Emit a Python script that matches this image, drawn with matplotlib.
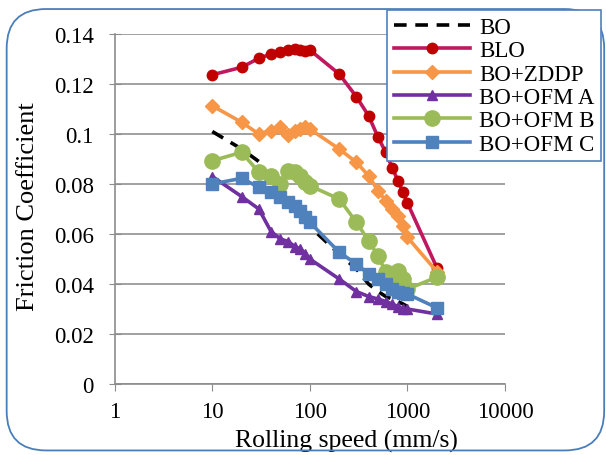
import matplotlib
matplotlib.use('Agg')
import matplotlib.pyplot as plt
from matplotlib.patches import FancyBboxPatch

plt.rcParams['font.family'] = ['Liberation Serif', 'DejaVu Serif']

# rolling speeds (mm/s)
speed = [10, 20, 30, 40, 50, 60, 70, 80, 90, 100,
         200, 300, 400, 500, 600, 700, 800, 900, 1000, 2000]
speed_bo = speed[:-1]

bo = [0.101, 0.094, 0.089, 0.081, 0.077, 0.073, 0.070, 0.067, 0.065, 0.063,
      0.052, 0.046, 0.040, 0.037, 0.035, 0.034, 0.033, 0.032, 0.031]
blo = [0.1237, 0.1267, 0.1303, 0.132, 0.1327, 0.1336, 0.134, 0.1337, 0.1332, 0.1336,
       0.124, 0.1149, 0.1073, 0.0987, 0.0927, 0.0864, 0.0813, 0.0767, 0.0724, 0.0466]
zddp = [0.1113, 0.1047, 0.100, 0.1013, 0.1027, 0.0996, 0.1013, 0.102, 0.1027, 0.102,
        0.094, 0.0887, 0.0833, 0.0773, 0.0733, 0.070, 0.0673, 0.0633, 0.0587, 0.045]
ofm_a = [0.083, 0.075, 0.070, 0.061, 0.058, 0.057, 0.055, 0.054, 0.052, 0.050,
         0.042, 0.037, 0.035, 0.034, 0.033, 0.032, 0.031, 0.030, 0.030, 0.028]
ofm_b = [0.0893, 0.0927, 0.0847, 0.0833, 0.080, 0.0853, 0.0848, 0.0833, 0.0808, 0.0793,
         0.074, 0.0647, 0.0573, 0.0513, 0.0447, 0.043, 0.0453, 0.042, 0.038, 0.0427]
ofm_c = [0.080, 0.0823, 0.0787, 0.0767, 0.0747, 0.0727, 0.0713, 0.0693, 0.0667, 0.0647,
         0.0527, 0.048, 0.044, 0.042, 0.040, 0.038, 0.0367, 0.0365, 0.036, 0.0305]

fig = plt.figure(figsize=(6.06, 4.56), dpi=100)
ax = fig.add_axes([0.1893, 0.1557, 0.6440, 0.7675])

# outer chart frame
frame = FancyBboxPatch((0.011, 0.010), 0.986, 0.968, boxstyle='round,pad=0,rounding_size=0.065',
                       transform=fig.transFigure, facecolor='none', edgecolor='#4a7ebb',
                       linewidth=1.3, mutation_aspect=606 / 456)
fig.patches.append(frame)

lw = 2.6
ax.plot(speed_bo, bo, color='black', linestyle=(0, (3.5, 2.4)), linewidth=lw, label='BO')
ax.plot(speed, blo, color='#c0185e', linewidth=lw, marker='o', markersize=7.5,
        markerfacecolor='#c00000', markeredgecolor='#c00000', label='BLO')
ax.plot(speed, zddp, color='#f79646', linewidth=lw, marker='D', markersize=7.5,
        label='BO+ZDDP')
ax.plot(speed, ofm_a, color='#7030a0', linewidth=lw, marker='^', markersize=7.5,
        label='BO+OFM A')
ax.plot(speed, ofm_b, color='#9bbb59', linewidth=lw, marker='o', markersize=11,
        label='BO+OFM B')
ax.plot(speed, ofm_c, color='#4f81bd', linewidth=lw, marker='s', markersize=8.5,
        label='BO+OFM C')

ax.set_xscale('log')
ax.set_xlim(1, 10000)
ax.set_ylim(0, 0.14)
ax.set_xticks([1, 10, 100, 1000, 10000])
ax.set_xticklabels(['1', '10', '100', '1000', '10000'])
ax.xaxis.set_minor_locator(matplotlib.ticker.NullLocator())
ax.set_yticks([0, 0.02, 0.04, 0.06, 0.08, 0.1, 0.12, 0.14])
ax.set_yticklabels(['0', '0.02', '0.04', '0.06', '0.08', '0.1', '0.12', '0.14'])
ax.grid(axis='y', color='#a0a0a0', linewidth=1.4)
ax.set_axisbelow(True)

for s in ['top', 'right']:
    ax.spines[s].set_visible(False)
for s in ['left', 'bottom']:
    ax.spines[s].set_color('#8c8c8c')
    ax.spines[s].set_linewidth(1.2)
ax.tick_params(axis='y', direction='inout', length=8, color='#8c8c8c', labelsize=16.5, pad=11)
ax.tick_params(axis='x', direction='out', length=5, color='#8c8c8c', labelsize=16.5, pad=7)

ax.set_xlabel('Rolling speed (mm/s)', fontsize=18.5, va='center')
ax.set_ylabel('Friction Coefficient', fontsize=19, va='center')
ax.xaxis.set_label_coords(0.593, -0.16)
ax.yaxis.set_label_coords(-0.222, 0.51)

leg = fig.legend(loc='upper left', bbox_to_anchor=(0.639, 0.976), fontsize=16.5,
                 frameon=True, fancybox=False, edgecolor='#4f81bd', framealpha=1,
                 handlelength=3.3, handletextpad=0.4, labelspacing=0.1,
                 borderpad=0.3, borderaxespad=0)
leg.get_frame().set_linewidth(1.2)

fig.savefig('out.png', dpi=100)
